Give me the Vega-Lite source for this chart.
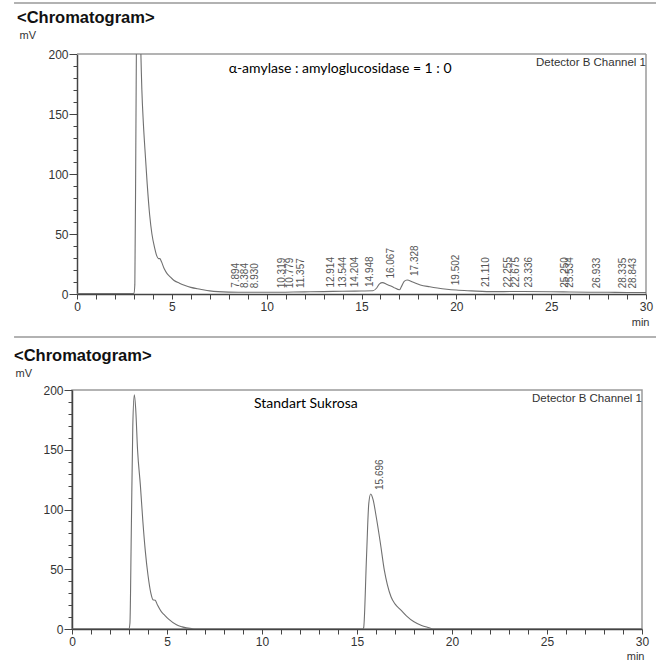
{
  "$schema": "https://vega.github.io/schema/vega-lite/v6.json",
  "background": "white",
  "padding": {"left": 12, "top": 2, "right": 0, "bottom": 0},
  "config": {
    "font": "Liberation Sans",
    "view": {"stroke": "#9a9a9a", "strokeWidth": 1.5},
    "axis": {
      "grid": false,
      "domainColor": "#444",
      "domainWidth": 1.5,
      "tickColor": "#444",
      "tickWidth": 1,
      "labelColor": "#333",
      "labelFont": "Liberation Sans",
      "labelFontSize": 12,
      "titleFont": "Liberation Sans",
      "titleFontWeight": "normal",
      "titleFontSize": 11,
      "titleColor": "#333"
    }
  },
  "datasets": {
    "topCurve": [
      {"t": 0, "v": 0.3}, {"t": 2.9, "v": 0.3}, {"t": 3.0, "v": 0.5}, {"t": 3.05, "v": 8}, {"t": 3.1, "v": 120},
      {"t": 3.15, "v": 250}, {"t": 3.22, "v": 320}, {"t": 3.28, "v": 300}, {"t": 3.35, "v": 215}, {"t": 3.42, "v": 170},
      {"t": 3.5, "v": 142}, {"t": 3.58, "v": 121}, {"t": 3.7, "v": 92}, {"t": 3.83, "v": 66}, {"t": 3.95, "v": 50},
      {"t": 4.1, "v": 38}, {"t": 4.2, "v": 32}, {"t": 4.3, "v": 29.5}, {"t": 4.37, "v": 29.5}, {"t": 4.45, "v": 27},
      {"t": 4.6, "v": 21}, {"t": 4.75, "v": 17}, {"t": 4.9, "v": 14.5}, {"t": 5.1, "v": 11.5}, {"t": 5.4, "v": 9},
      {"t": 5.7, "v": 7}, {"t": 6.0, "v": 5.5}, {"t": 6.5, "v": 4}, {"t": 7.0, "v": 2.6}, {"t": 8, "v": 1.6},
      {"t": 9, "v": 1.4}, {"t": 10, "v": 1.4}, {"t": 11, "v": 1.5}, {"t": 12, "v": 1.8}, {"t": 13, "v": 2},
      {"t": 14, "v": 2.3}, {"t": 15, "v": 2.5}, {"t": 15.6, "v": 2.7}, {"t": 15.8, "v": 5}, {"t": 15.95, "v": 8.5},
      {"t": 16.1, "v": 9.5}, {"t": 16.35, "v": 8}, {"t": 16.7, "v": 5.5}, {"t": 17.0, "v": 3.5}, {"t": 17.1, "v": 6},
      {"t": 17.25, "v": 10.5}, {"t": 17.4, "v": 11.7}, {"t": 17.7, "v": 10}, {"t": 18.1, "v": 7.5}, {"t": 18.6, "v": 6},
      {"t": 19.0, "v": 5}, {"t": 19.5, "v": 4}, {"t": 20, "v": 3.3}, {"t": 20.8, "v": 2.6}, {"t": 21.6, "v": 2},
      {"t": 22.5, "v": 2}, {"t": 23.5, "v": 2.1}, {"t": 25, "v": 1.9}, {"t": 26, "v": 1.7}, {"t": 27, "v": 1.5},
      {"t": 28, "v": 1.4}, {"t": 29, "v": 1.3}, {"t": 30, "v": 1.3}
    ],
    "topPeaks": [
      {"t": 7.894, "v": 1.8}, {"t": 8.384, "v": 1.6}, {"t": 8.930, "v": 1.5}, {"t": 10.319, "v": 1.4},
      {"t": 10.779, "v": 1.5}, {"t": 11.357, "v": 1.6}, {"t": 12.914, "v": 2}, {"t": 13.544, "v": 2.1},
      {"t": 14.204, "v": 2.3}, {"t": 14.948, "v": 2.5}, {"t": 16.067, "v": 9.5}, {"t": 17.328, "v": 11.7},
      {"t": 19.502, "v": 4}, {"t": 21.110, "v": 2.4}, {"t": 22.255, "v": 2}, {"t": 22.675, "v": 2},
      {"t": 23.336, "v": 2.1}, {"t": 25.250, "v": 1.9}, {"t": 25.534, "v": 1.8}, {"t": 26.933, "v": 1.5},
      {"t": 28.335, "v": 1.4}, {"t": 28.843, "v": 1.3}
    ],
    "bottomCurve": [
      {"t": 0, "v": 0}, {"t": 3.0, "v": 0}, {"t": 3.05, "v": 5}, {"t": 3.12, "v": 80}, {"t": 3.2, "v": 170},
      {"t": 3.28, "v": 196}, {"t": 3.35, "v": 185}, {"t": 3.45, "v": 150}, {"t": 3.6, "v": 120}, {"t": 3.73, "v": 90},
      {"t": 3.86, "v": 65}, {"t": 4.0, "v": 45}, {"t": 4.15, "v": 30}, {"t": 4.26, "v": 24.5}, {"t": 4.38, "v": 24},
      {"t": 4.5, "v": 20}, {"t": 4.7, "v": 14.5}, {"t": 4.85, "v": 12}, {"t": 5.1, "v": 8}, {"t": 5.5, "v": 3.5},
      {"t": 5.8, "v": 1.8}, {"t": 6.3, "v": 0.3}, {"t": 6.5, "v": 0}, {"t": 15.3, "v": 0}, {"t": 15.35, "v": 1},
      {"t": 15.5, "v": 60}, {"t": 15.62, "v": 105}, {"t": 15.72, "v": 113}, {"t": 15.85, "v": 108}, {"t": 16.0, "v": 95},
      {"t": 16.23, "v": 72}, {"t": 16.44, "v": 49}, {"t": 16.6, "v": 37}, {"t": 16.79, "v": 27}, {"t": 17.0, "v": 21},
      {"t": 17.3, "v": 16}, {"t": 17.6, "v": 11}, {"t": 18.0, "v": 6}, {"t": 18.4, "v": 3}, {"t": 18.8, "v": 1},
      {"t": 19.0, "v": 0}, {"t": 30, "v": 0}
    ],
    "bottomPeaks": [
      {"t": 15.696, "v": 113}
    ]
  },
  "vconcat": [
    {
      "width": 574,
      "height": 240,
      "view": {"stroke": null},
      "title": {"text": "<Chromatogram>", "anchor": "start", "frame": "group", "dx": -55, "dy": 32, "fontSize": 16.5, "fontWeight": "bold", "color": "#111", "offset": 8, "font": "Liberation Sans"},
      "encoding": {
        "x": {
          "field": "t", "type": "quantitative",
          "scale": {"domain": [0, 30], "nice": false, "zero": false, "range": [5, 574]},
          "axis": {
            "title": "min",
            "values": [0,1,2,3,4,5,6,7,8,9,10,11,12,13,14,15,16,17,18,19,20,21,22,23,24,25,26,27,28,29,30],
            "labelExpr": "datum.value % 5 === 0 ? datum.label : ''",
            "tickSize": 5, "labelPadding": 2, "labelFlush": false, "labelOverlap": false,
            "titleAlign": "right", "titleAnchor": "end", "titleX": 577, "titleY": 28, "titleBaseline": "middle"
          }
        },
        "y": {
          "field": "v", "type": "quantitative",
          "scale": {"domain": [0, 200], "nice": false},
          "axis": {
            "title": "mV", "offset": -5,
            "values": [0,10,20,30,40,50,60,70,80,90,100,110,120,130,140,150,160,170,180,190,200],
            "labelExpr": "datum.value % 50 === 0 ? datum.label : ''",
            "tickSize": {"condition": {"test": "datum.value % 50 === 0", "value": 8}, "value": 4},
            "labelPadding": 1, "labelOverlap": false,
            "titleAngle": 0, "titleAlign": "left", "titleX": -58, "titleY": -19, "titleBaseline": "middle"
          }
        }
      },
      "layer": [
        {
          "data": {"values": [{"t": -3.32, "t2": 30.57, "v": 242.5}]},
          "mark": {"type": "rule", "clip": false, "color": "#999", "strokeWidth": 1.5},
          "encoding": {"x2": {"field": "t2"}}
        },
        {
          "data": {"values": [{"t": 0, "t2": 30, "v": 200}]},
          "mark": {"type": "rule", "clip": false, "color": "#9a9a9a", "strokeWidth": 1.5},
          "encoding": {"x2": {"field": "t2"}}
        },
        {
          "data": {"values": [{"t": 30, "v": 0, "v2": 200}]},
          "mark": {"type": "rule", "clip": false, "color": "#9a9a9a", "strokeWidth": 1.5},
          "encoding": {"y2": {"field": "v2"}}
        },
        {
          "data": {"name": "topCurve"},
          "mark": {"type": "line", "clip": true, "color": "#707070", "strokeWidth": 1.1, "interpolate": "monotone"}
        },
        {
          "data": {"name": "topPeaks"},
          "mark": {"type": "text", "angle": 270, "align": "left", "baseline": "middle", "dx": 4, "dy": 9, "fontSize": 10, "color": "#555", "font": "Liberation Sans"},
          "encoding": {"text": {"field": "t", "format": ".3f"}}
        },
        {
          "data": {"values": [{"t": 30, "v": 200, "label": "Detector B Channel 1"}]},
          "mark": {"type": "text", "align": "right", "baseline": "top", "dx": 0, "dy": 3, "fontSize": 11.5, "color": "#333", "font": "Liberation Sans"},
          "encoding": {"text": {"field": "label"}}
        },
        {
          "data": {"values": [{"t": 8.0, "v": 187.5, "label": "α-amylase : amyloglucosidase = 1 : 0"}]},
          "mark": {"type": "text", "align": "left", "baseline": "middle", "fontSize": 14, "color": "#000", "font": "Lato"},
          "encoding": {"text": {"field": "label"}}
        }
      ]
    },
    {
      "width": 570,
      "height": 239,
      "title": {"text": "<Chromatogram>", "anchor": "start", "frame": "group", "dx": -58, "dy": 36, "fontSize": 16.5, "fontWeight": "bold", "color": "#111", "offset": 8, "font": "Liberation Sans"},
      "encoding": {
        "x": {
          "field": "t", "type": "quantitative",
          "scale": {"domain": [0, 30], "nice": false, "zero": false},
          "axis": {
            "title": "min",
            "values": [0,1,2,3,4,5,6,7,8,9,10,11,12,13,14,15,16,17,18,19,20,21,22,23,24,25,26,27,28,29,30],
            "labelExpr": "datum.value % 5 === 0 ? datum.label : ''",
            "tickSize": 5, "labelPadding": 2, "labelFlush": false, "labelOverlap": false,
            "titleAlign": "right", "titleAnchor": "end", "titleX": 572, "titleY": 27, "titleBaseline": "middle"
          }
        },
        "y": {
          "field": "v", "type": "quantitative",
          "scale": {"domain": [0, 200], "nice": false},
          "axis": {
            "title": "mV",
            "values": [0,10,20,30,40,50,60,70,80,90,100,110,120,130,140,150,160,170,180,190,200],
            "labelExpr": "datum.value % 50 === 0 ? datum.label : ''",
            "tickSize": {"condition": {"test": "datum.value % 50 === 0", "value": 8}, "value": 4},
            "labelPadding": 1, "labelOverlap": false,
            "titleAngle": 0, "titleAlign": "left", "titleX": -57, "titleY": -17, "titleBaseline": "middle"
          }
        }
      },
      "layer": [
        {
          "data": {"values": [{"t": -3.05, "t2": 30.79, "v": 244.4}]},
          "mark": {"type": "rule", "clip": false, "color": "#999", "strokeWidth": 1.5},
          "encoding": {"x2": {"field": "t2"}}
        },
        {
          "data": {"name": "bottomCurve"},
          "mark": {"type": "line", "clip": true, "color": "#707070", "strokeWidth": 1.1, "interpolate": "monotone"}
        },
        {
          "data": {"name": "bottomPeaks"},
          "mark": {"type": "text", "angle": 270, "align": "left", "baseline": "middle", "dx": 4, "dy": 10, "fontSize": 10, "color": "#555", "font": "Liberation Sans"},
          "encoding": {"text": {"field": "t", "format": ".3f"}}
        },
        {
          "data": {"values": [{"t": 30, "v": 200, "label": "Detector B Channel 1"}]},
          "mark": {"type": "text", "align": "right", "baseline": "top", "dx": 0, "dy": 3, "fontSize": 11.5, "color": "#333", "font": "Liberation Sans"},
          "encoding": {"text": {"field": "label"}}
        },
        {
          "data": {"values": [{"t": 9.58, "v": 188.3, "label": "Standart Sukrosa"}]},
          "mark": {"type": "text", "align": "left", "baseline": "middle", "fontSize": 14, "color": "#000", "font": "Lato"},
          "encoding": {"text": {"field": "label"}}
        }
      ]
    }
  ],
  "spacing": 8
}
